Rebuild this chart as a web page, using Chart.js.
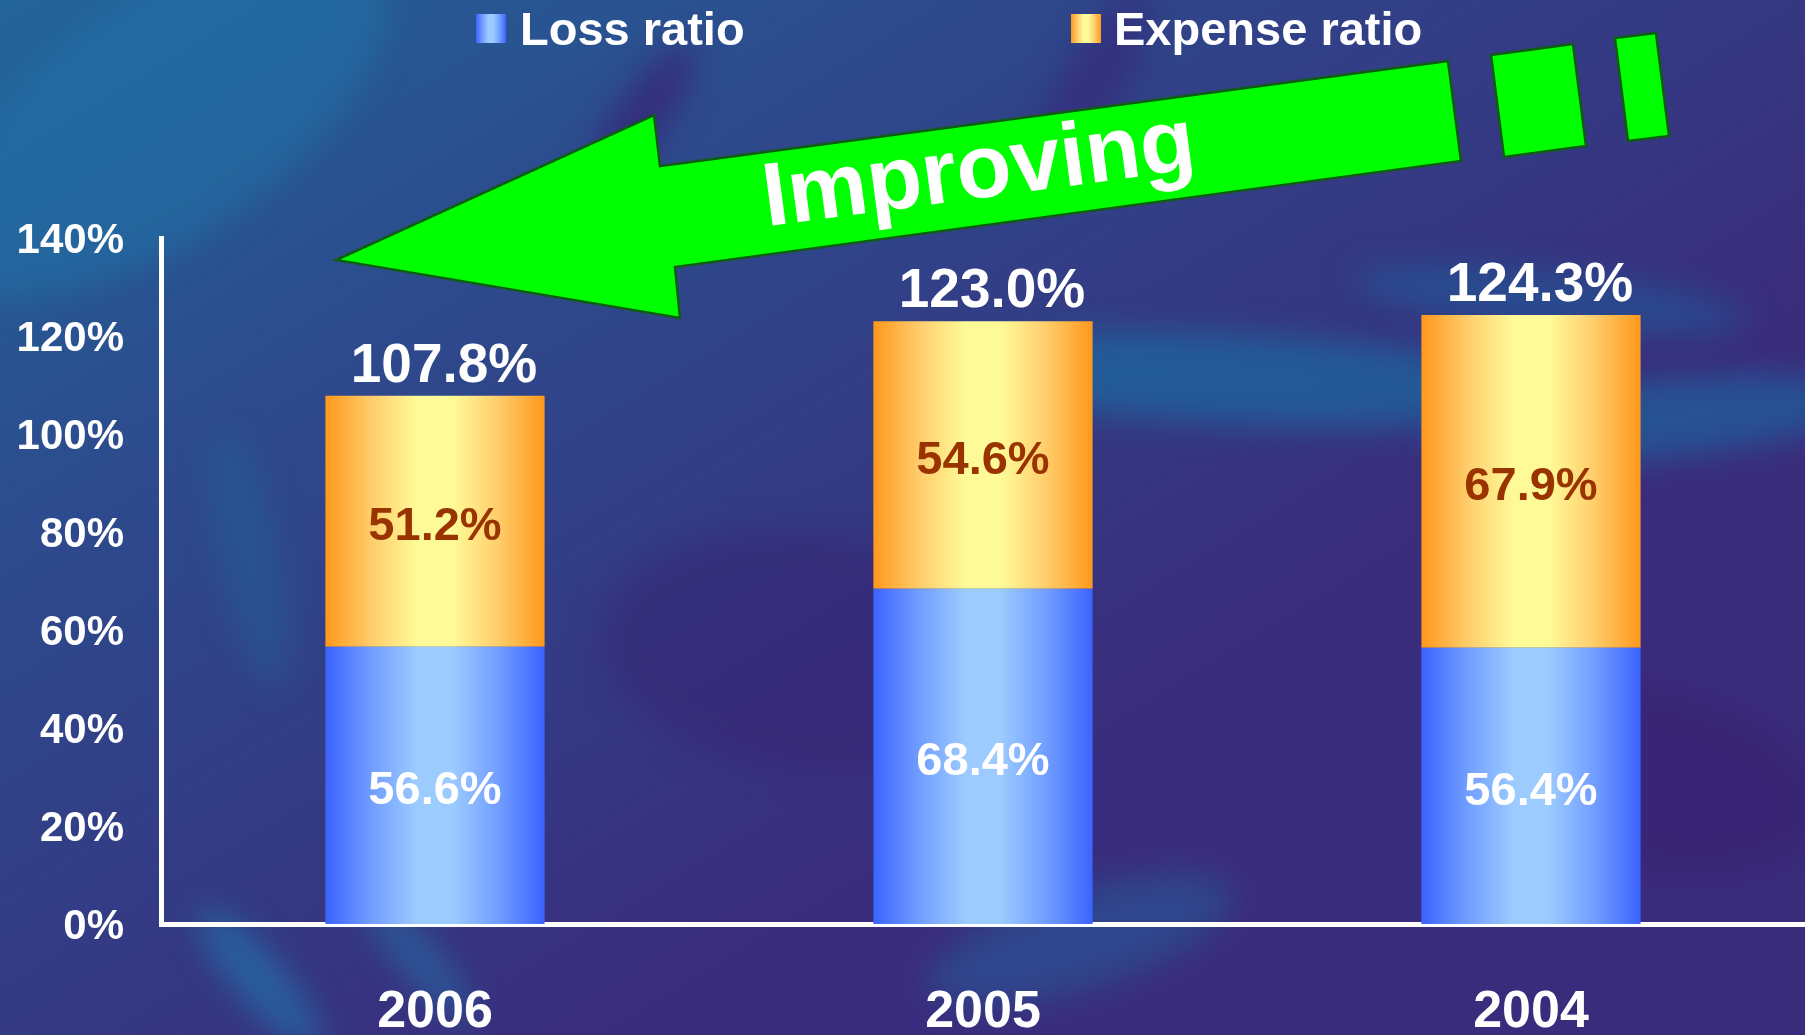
<!DOCTYPE html>
<html>
<head>
<meta charset="utf-8">
<title>Loss ratio and expense ratio</title>
<script src="https://cdn.jsdelivr.net/npm/chart.js@4.4.1/dist/chart.umd.min.js"></script>
<style>
  html, body { margin: 0; padding: 0; background: #2e3f87; overflow: hidden; }
  #wrap { width: 1805px; height: 1035px; position: relative; }
</style>
</head>
<body>
<div id="wrap"><canvas id="ratioChart" width="1805" height="1035"></canvas></div>
<script>
const years = ['2006', '2005', '2004'];
const lossRatio = [56.6, 68.4, 56.4];
const expenseRatio = [51.2, 54.6, 67.9];
const seriesNames = ['Loss ratio', 'Expense ratio'];
const yTicks = [0, 20, 40, 60, 80, 100, 120, 140];
const arrowText = 'Improving';

const FONT = '"Liberation Sans", Arial, sans-serif';
const BAR_FRACTION = 0.4;

// colour stops across the width of a bar (edge -> centre -> edge)
const lossStops = [[0, '#3b63ff'], [0.2, '#6f9bff'], [0.42, '#9ccbff'], [0.58, '#9ccbff'], [0.8, '#6f9bff'], [1, '#3b63ff']];
const expenseStops = [[0, '#ff981b'], [0.22, '#ffcf6e'], [0.42, '#fffa98'], [0.58, '#fffa98'], [0.78, '#ffcf6e'], [1, '#ff981b']];
const segmentTextColors = ['#ffffff', '#993300'];

function barGradient(context, stops) {
    const chart = context.chart;
    const area = chart.chartArea;
    if (!area || context.dataIndex === undefined || !chart.scales.x) return stops[0][1];
    const center = chart.scales.x.getPixelForValue(context.dataIndex);
    const half = (area.right - area.left) / years.length * BAR_FRACTION / 2;
    const g = chart.ctx.createLinearGradient(center - half, 0, center + half, 0);
    stops.forEach(s => g.addColorStop(s[0], s[1]));
    return g;
}

function boxGradient(ctx, x, w, stops) {
    const g = ctx.createLinearGradient(x, 0, x + w, 0);
    stops.forEach(s => g.addColorStop(s[0], s[1]));
    return g;
}

// textured blue/purple backdrop
const backdrop = {
    id: 'backdrop',
    beforeDraw(chart) {
        const { ctx, width, height } = chart;
        ctx.save();
        const g = ctx.createLinearGradient(0, 0, width * 0.35, height);
        g.addColorStop(0, '#22649b');
        g.addColorStop(0.4, '#2d4a8c');
        g.addColorStop(1, '#3a2c7c');
        ctx.fillStyle = g;
        ctx.fillRect(0, 0, width, height);

        const blobs = [
            // x, y, rx, ry, angle, colour
            [160, 120, 260, 120, -0.6, 'rgba(30,120,170,0.45)'],
            [1250, 380, 320, 45, 0.05, 'rgba(20,120,170,0.55)'],
            [1650, 420, 220, 40, -0.1, 'rgba(20,120,170,0.5)'],
            [1550, 300, 200, 30, 0.1, 'rgba(20,110,165,0.4)'],
            [640, 120, 25, 90, 0.6, 'rgba(60,20,110,0.55)'],
            [1090, 90, 30, 110, 0.5, 'rgba(60,20,110,0.4)'],
            [250, 560, 30, 130, -0.2, 'rgba(30,110,160,0.35)'],
            [260, 980, 25, 90, -0.7, 'rgba(30,130,180,0.55)'],
            [420, 960, 20, 80, -0.7, 'rgba(30,130,180,0.45)'],
            [1080, 940, 160, 50, -0.3, 'rgba(30,110,165,0.4)'],
            [1650, 780, 180, 90, 0.2, 'rgba(55,30,110,0.5)'],
            [800, 650, 200, 120, 0.1, 'rgba(55,30,110,0.4)']
        ];
        ctx.filter = 'blur(16px)';
        blobs.forEach(b => {
            ctx.beginPath();
            ctx.ellipse(b[0], b[1], b[2], b[3], b[4], 0, Math.PI * 2);
            ctx.fillStyle = b[5];
            ctx.fill();
        });
        ctx.restore();
    }
};

// percentages inside segments and totals above the stacks
const valueLabels = {
    id: 'valueLabels',
    afterDatasetsDraw(chart) {
        const { ctx } = chart;
        ctx.save();
        ctx.textAlign = 'center';
        ctx.textBaseline = 'middle';
        ctx.font = 'bold 47px ' + FONT;
        chart.data.datasets.forEach((ds, di) => {
            const meta = chart.getDatasetMeta(di);
            ctx.fillStyle = segmentTextColors[di];
            meta.data.forEach((bar, i) => {
                ctx.fillText(ds.data[i].toFixed(1) + '%', bar.x, (bar.y + bar.base) / 2 + 6);
            });
        });
        const topMeta = chart.getDatasetMeta(chart.data.datasets.length - 1);
        ctx.font = 'bold 55px ' + FONT;
        ctx.fillStyle = '#ffffff';
        topMeta.data.forEach((bar, i) => {
            const total = chart.data.datasets.reduce((s, ds) => s + ds.data[i], 0);
            ctx.fillText(total.toFixed(1) + '%', bar.x + 9, bar.y - 29);
        });
        ctx.restore();
    }
};

// legend row at the top
const topLegend = {
    id: 'topLegend',
    afterDraw(chart) {
        const { ctx } = chart;
        const items = [
            { box: 476, text: 520, stops: lossStops },
            { box: 1071, text: 1114, stops: expenseStops }
        ];
        ctx.save();
        ctx.font = 'bold 47px ' + FONT;
        ctx.textAlign = 'left';
        ctx.textBaseline = 'middle';
        chart.data.datasets.forEach((ds, i) => {
            const it = items[i];
            ctx.fillStyle = boxGradient(ctx, it.box, 30, it.stops);
            ctx.fillRect(it.box, 14, 30, 29);
            ctx.fillStyle = '#ffffff';
            ctx.fillText(ds.label, it.text, 32);
        });
        ctx.restore();
    }
};

// big green "Improving" arrow
const improvingArrow = {
    id: 'improvingArrow',
    afterDraw(chart) {
        const { ctx } = chart;
        const shapes = [
            [[336, 260], [654, 115], [660, 166], [1448, 61], [1461, 161], [675, 267], [680, 318]],
            [[1491, 55], [1573, 44], [1586, 146], [1504, 157]],
            [[1615, 38], [1656, 33], [1669, 136], [1628, 141]]
        ];
        ctx.save();
        ctx.fillStyle = '#00ff00';
        ctx.strokeStyle = '#0d5e12';
        ctx.lineWidth = 2.5;
        ctx.lineJoin = 'miter';
        shapes.forEach(pts => {
            ctx.beginPath();
            pts.forEach((p, i) => i ? ctx.lineTo(p[0], p[1]) : ctx.moveTo(p[0], p[1]));
            ctx.closePath();
            ctx.fill();
            ctx.stroke();
        });
        ctx.translate(979, 173);
        ctx.rotate(-7.6 * Math.PI / 180);
        ctx.font = 'bold 90px ' + FONT;
        ctx.textAlign = 'center';
        ctx.textBaseline = 'middle';
        ctx.fillStyle = '#ffffff';
        ctx.fillText(arrowText, 0, 0);
        ctx.restore();
    }
};

const ctx = document.getElementById('ratioChart').getContext('2d');
const ratioChart = new Chart(ctx, {
    type: 'bar',
    data: {
        labels: years,
        datasets: [{
            label: seriesNames[0],
            data: lossRatio,
            backgroundColor: c => barGradient(c, lossStops),
            borderWidth: 0
        }, {
            label: seriesNames[1],
            data: expenseRatio,
            backgroundColor: c => barGradient(c, expenseStops),
            borderWidth: 0
        }]
    },
    options: {
        responsive: false,
        animation: false,
        layout: { padding: { top: 238, left: 0, right: 0, bottom: 0 } },
        datasets: {
            bar: { categoryPercentage: 1, barPercentage: BAR_FRACTION }
        },
        plugins: {
            legend: { display: false },
            tooltip: { enabled: false }
        },
        scales: {
            x: {
                stacked: true,
                grid: { display: false, drawTicks: false },
                border: { display: true, color: '#ffffff', width: 5 },
                ticks: {
                    color: '#ffffff',
                    padding: 57,
                    font: { family: FONT, size: 52, weight: 'bold' }
                },
                afterFit: scale => { scale.height = 111; }
            },
            y: {
                stacked: true,
                min: yTicks[0],
                max: yTicks[yTicks.length - 1],
                grid: { display: false, drawTicks: false },
                border: { display: true, color: '#ffffff', width: 5 },
                ticks: {
                    stepSize: yTicks[1] - yTicks[0],
                    color: '#ffffff',
                    padding: 37,
                    labelOffset: 3,
                    font: { family: FONT, size: 42, weight: 'bold' },
                    callback: v => v + '%'
                },
                afterFit: scale => { scale.width = 161; }
            }
        }
    },
    plugins: [backdrop, valueLabels, topLegend, improvingArrow]
});
</script>
</body>
</html>
